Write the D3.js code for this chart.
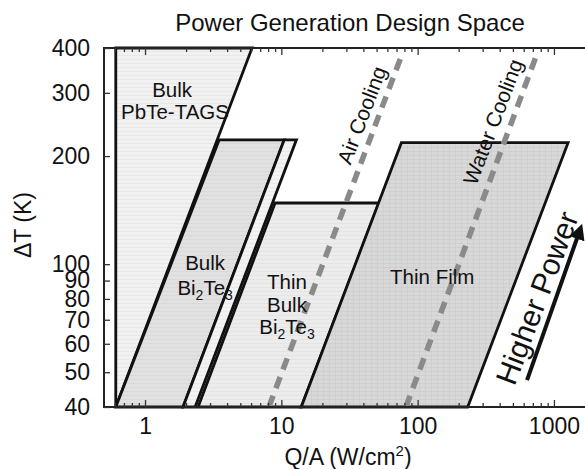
<!DOCTYPE html>
<html>
<head>
<meta charset="utf-8">
<script src="https://cdn.jsdelivr.net/npm/d3@7"></script>
<style>
  body { margin: 0; background: #fff; }
  svg { display: block; font-family: Arial, "Liberation Sans", Helvetica, sans-serif; }
</style>
</head>
<body>
<div id="chart"></div>
<script>
// regions: Q/A at the bottom (ΔT = 40 K) and at the top edge, for the left and right side
const regionNames = ["PbTe-TAGS", "Bulk Bi2Te3", "Bulk Bi2Te3 edge", "Thin Bulk Bi2Te3", "Thin Film"];
const regionTop = [400, 222, 222, 148, 218];
const regionLeftQ = [[0.61, 0.61], [0.61, 3.5], [1.9, 10.5], [2.45, 9.0], [14, 76]];
const regionRightQ = [[0.61, 6.1], [1.9, 10.5], [2.33, 12.9], [14, 52], [233, 1270]];

// cooling limits (dashed)
const coolingNames = ["Air Cooling", "Water Cooling"];
const coolingT = [40, 390];
const coolingQ = [[8.1, 78], [82, 760]];

// region labels: lines of text and their centres in data units
const labelLines = [["Bulk"], ["PbTe-TAGS"], ["Bulk"], ["Bi", "2", "Te", "3"],
  ["Thin"], ["Bulk"], ["Bi", "2", "Te", "3"], ["Thin Film"]];
const labelQ = [1.58, 1.66, 2.76, 2.76, 11.0, 11.0, 11.0, 128];
const labelT = [305, 265, 101, 86, 89, 77, 67, 92];

// sloped labels
const slopedText = ["Air Cooling", "Water Cooling", "Higher Power"];
const slopedQ = [39, 357, 752];
const slopedT = [260, 249, 80.5];
const arrowQ = [635, 1500];
const arrowT = [47.5, 120];

const yTicks = [40, 50, 60, 70, 80, 90, 100, 200, 300, 400];
const xMajor = [1, 10, 100, 1000];
const xMinor = [0.6, 0.7, 0.8, 0.9, 2, 3, 4, 5, 6, 7, 8, 9, 20, 30, 40, 50, 60, 70, 80, 90,
  200, 300, 400, 500, 600, 700, 800, 900, 2000];

const width = 585, height = 469;
const fills = ["#f1f1f1", "#e1e1e1", "#f3f3f3", "#ececec", "#d8d8d8"];

const svg = d3.select("#chart").append("svg")
  .attr("width", width).attr("height", height);

const x = d3.scaleLog().domain([0.5, 2000]).range([104, 104 + 136.3 * Math.log10(4000)]);
const y = d3.scaleLog().domain([40, 400]).range([407, 48]);

// faint scan-like stripes in the shaded regions
const defs = svg.append("defs");
fills.forEach((c, i) => {
  const p = defs.append("pattern").attr("id", "fill" + i)
    .attr("patternUnits", "userSpaceOnUse").attr("width", 6).attr("height", 4);
  p.append("rect").attr("width", 6).attr("height", 4).attr("fill", c);
  p.append("rect").attr("y", 3).attr("width", 6).attr("height", 1).attr("fill", "rgba(0,0,0,0.035)");
  if (i === 4) p.append("rect").attr("x", 5).attr("width", 1).attr("height", 4).attr("fill", "rgba(0,0,0,0.03)");
});

// regions
const regions = regionNames.map((n, i) => [
  [regionLeftQ[i][0], 40], [regionLeftQ[i][1], regionTop[i]],
  [regionRightQ[i][1], regionTop[i]], [regionRightQ[i][0], 40]
]);
svg.append("g").selectAll("path")
  .data(regions)
  .join("path")
  .attr("d", d => "M" + d.map(p => [x(p[0]), y(p[1])].join(",")).join("L") + "Z")
  .attr("fill", (d, i) => `url(#fill${i})`)
  .attr("stroke", "#111")
  .attr("stroke-width", 2.8)
  .attr("stroke-linejoin", "miter");

// cooling limits
svg.append("g").selectAll("line")
  .data(coolingQ)
  .join("line")
  .attr("x1", d => x(d[0])).attr("y1", y(coolingT[0]))
  .attr("x2", d => x(d[1])).attr("y2", y(coolingT[1]))
  .attr("stroke", "#8a8a8a")
  .attr("stroke-width", 5.5)
  .attr("stroke-dasharray", "12,8");

// frame
svg.append("rect")
  .attr("x", x(0.5)).attr("y", y(400))
  .attr("width", x(2000) - x(0.5)).attr("height", y(40) - y(400))
  .attr("fill", "none").attr("stroke", "#222").attr("stroke-width", 2);

// axes
const fmt = d => d3.format("d")(d);
svg.append("g").attr("transform", `translate(0,${y(40)})`)
  .call(d3.axisBottom(x).tickValues(xMajor).tickFormat(fmt).tickSize(-7).tickPadding(11));
svg.append("g").attr("transform", `translate(0,${y(40)})`)
  .call(d3.axisBottom(x).tickValues(xMinor).tickFormat("").tickSize(-4));
svg.append("g").attr("transform", `translate(0,${y(400)})`)
  .call(d3.axisTop(x).tickValues(xMajor).tickFormat("").tickSize(-7));
svg.append("g").attr("transform", `translate(0,${y(400)})`)
  .call(d3.axisTop(x).tickValues(xMinor).tickFormat("").tickSize(-4));
svg.append("g").attr("transform", `translate(${x(0.5)},0)`)
  .call(d3.axisLeft(y).tickValues(yTicks).tickFormat(fmt).tickSize(-6).tickPadding(14));

svg.selectAll(".domain").remove();
svg.selectAll(".tick line").attr("stroke", "#333").attr("stroke-width", 1.3);
svg.selectAll(".tick text").attr("font-size", 23).attr("fill", "#111")
  .attr("font-family", "Arial, 'Liberation Sans', sans-serif");

// title and axis titles
svg.append("text").attr("x", 350).attr("y", 31).attr("text-anchor", "middle")
  .attr("font-size", 24).attr("fill", "#111").text("Power Generation Design Space");

const xt = svg.append("text").attr("x", 348).attr("y", 465).attr("text-anchor", "middle")
  .attr("font-size", 23).attr("fill", "#111");
xt.append("tspan").text("Q/A (W/cm");
xt.append("tspan").attr("font-size", 15).attr("dy", -9).text("2");
xt.append("tspan").attr("dy", 9).text(")");

svg.append("text").attr("transform", "translate(31,225) rotate(-90)")
  .attr("text-anchor", "middle").attr("font-size", 23).attr("fill", "#111").text("ΔT (K)");

// region labels
labelLines.forEach((parts, i) => {
  const t = svg.append("text")
    .attr("x", x(labelQ[i])).attr("y", y(labelT[i])).attr("dy", "0.35em")
    .attr("text-anchor", "middle").attr("font-size", 20.5).attr("fill", "#111");
  if (parts.length === 1) { t.text(parts[0]); return; }
  t.append("tspan").text(parts[0]);
  t.append("tspan").attr("font-size", 14).attr("dy", 5).text(parts[1]);
  t.append("tspan").attr("dy", -5).text(parts[2]);
  t.append("tspan").attr("font-size", 14).attr("dy", 5).text(parts[3]);
});

// sloped labels follow the Q ∝ ΔT direction of the region edges
const angle = Math.atan2(y(400) - y(40), x(10) - x(1)) * 180 / Math.PI;
const slopedSize = [21, 21, 30];
slopedText.forEach((s, i) => {
  svg.append("text")
    .attr("transform", `translate(${x(slopedQ[i])},${y(slopedT[i])}) rotate(${angle})`)
    .attr("dy", "0.35em").attr("text-anchor", "middle")
    .attr("font-size", slopedSize[i]).attr("fill", "#111").text(s);
});

// arrow
defs.append("marker")
  .attr("id", "head").attr("viewBox", "0 0 10 10")
  .attr("refX", 2).attr("refY", 5)
  .attr("markerWidth", 4).attr("markerHeight", 4)
  .attr("orient", "auto")
  .append("path").attr("d", "M0,0L10,5L0,10Z").attr("fill", "#111");

svg.append("line")
  .attr("x1", x(arrowQ[0])).attr("y1", y(arrowT[0]))
  .attr("x2", x(arrowQ[1])).attr("y2", y(arrowT[1]))
  .attr("stroke", "#111").attr("stroke-width", 4)
  .attr("marker-end", "url(#head)");
</script>
</body>
</html>
